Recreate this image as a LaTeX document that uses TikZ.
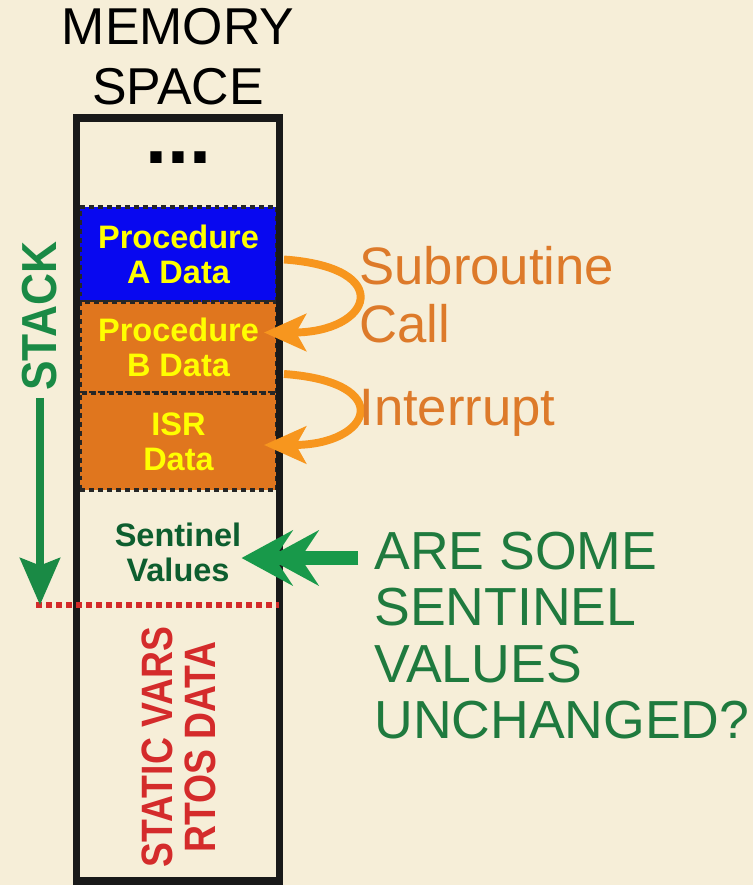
\documentclass[tikz,border=0pt]{standalone}
\usepackage{fontspec}
\setmainfont{Liberation Sans}
\usetikzlibrary{arrows.meta}
\definecolor{parchment}{HTML}{F6EED8}
\definecolor{memblue}{HTML}{0808F0}
\definecolor{memorange}{HTML}{E0761E}
\definecolor{txtyellow}{HTML}{FFFF00}
\definecolor{arroworange}{HTML}{F7961E}
\definecolor{callorange}{HTML}{DD7A2A}
\definecolor{stackgreen}{HTML}{1A8A45}
\definecolor{arrowgreen}{HTML}{18994A}
\definecolor{questgreen}{HTML}{1F7A3E}
\definecolor{sentgreen}{HTML}{0D5E2F}
\definecolor{limitred}{HTML}{D42B2B}
\tikzset{
  stackblock/.style = { draw=black!85, line width=2.3pt, dash pattern=on 2.8pt off 2.3pt,
                        minimum width=3.94cm, inner sep=0pt, text=txtyellow, align=center,
                        font=\fontsize{18.5}{20}\selectfont\bfseries },
  memframe/.style   = { draw=black!90, line width=4pt },
  calltext/.style   = { anchor=north west, inner sep=0pt, align=left, text=callorange,
                        font=\fontsize{30}{33}\selectfont },
  questtext/.style  = { anchor=north west, inner sep=0pt, align=left, text=questgreen,
                        font=\fontsize{30.5}{32}\selectfont },
  callarrow/.style  = { draw=arroworange, line width=4.5pt,
                        -{Stealth[length=0.84cm,width=0.74cm,inset=0.2cm]} },
  stackarrow/.style = { draw=stackgreen, line width=4pt,
                        -{Stealth[length=0.94cm,width=0.8cm,inset=0.15cm]} },
  bigarrow/.style   = { draw=arrowgreen, line width=8.5pt,
                        -{Stealth[length=1.02cm,width=1.1cm,inset=0.36cm]} },
  limitline/.style  = { draw=limitred, line width=3.4pt, dash pattern=on 3.4pt off 2.3pt }
}

\begin{document}
\begin{tikzpicture}[x=0.02cm, y=-0.02cm]
  \useasboundingbox (0,0) rectangle (753,885);
  \fill[parchment] (0,0) rectangle (753,885);
  % Draw stack frames
  \node[stackblock, fill=memblue,   minimum height=1.9cm]  (procA) at (178.5,254.5) {Procedure\\A Data};
  \node[stackblock, fill=memorange, minimum height=1.82cm] (procB) at (178.5,347.5) {Procedure\\B Data};
  \node[stackblock, fill=memorange, minimum height=1.94cm] (isr)   at (178.5,441.5) {ISR\\Data};
  \draw[memframe] (76.5,118) rectangle (279.5,881);
  \node[font=\fontsize{45}{45}\selectfont\bfseries, anchor=base, inner sep=0pt] (dots) at (178,164) {...};
  \node[align=center, anchor=north, inner sep=0pt, font=\fontsize{29.5}{34}\selectfont] (title) at (178,8) {MEMORY\\SPACE};
  % Draw stack limit
  \coordinate (limitL) at (36,605);
  \coordinate (limitR) at (279,605);
  \draw[limitline] (limitL) -- (limitR);
  \node[rotate=90, xscale=0.9, inner sep=0pt, text=stackgreen, font=\fontsize{28}{28}\selectfont\bfseries] (stack) at (40,316) {STACK};
  \coordinate (stackend) at (40,605);
  \draw[stackarrow] ([yshift=-4pt]stack.west) -- (stackend);
  % Draw sentinels
  \node[align=center, inner sep=0pt, text=sentgreen, font=\fontsize{18.5}{20}\selectfont\bfseries] (sent) at (178,552) {Sentinel\\Values};
  \coordinate (qtail) at (358,558);
  \draw[bigarrow] (qtail) -- (qtail -| sent.east);
  \draw[bigarrow, shorten >=0.52cm] (qtail) -- (qtail -| sent.east);
  \node[rotate=90, xscale=0.85, align=center, inner sep=0pt, text=limitred, font=\fontsize{25}{24.4}\selectfont\bfseries] (static) at (178.5,747) {STATIC VARS\\RTOS DATA};
  % Draw annotations
  \draw[callarrow] ([shift={(5,5)}]procA.east) .. controls +(113,8) and +(108,0) .. ([shift={(-15,-15)}]procB.east);
  \draw[callarrow] ([shift={(5,26.5)}]procB.east) .. controls +(113,8) and +(108,0) .. ([shift={(-15,3.5)}]isr.east);
  \node[calltext] (subcall) at (359,246) {Subroutine\\Call};
  \node[calltext] (intr) at (359,389) {Interrupt};
  \node[questtext] (quest) at (374,532) {ARE SOME\\SENTINEL\\VALUES\\UNCHANGED?};
\end{tikzpicture}
\end{document}
